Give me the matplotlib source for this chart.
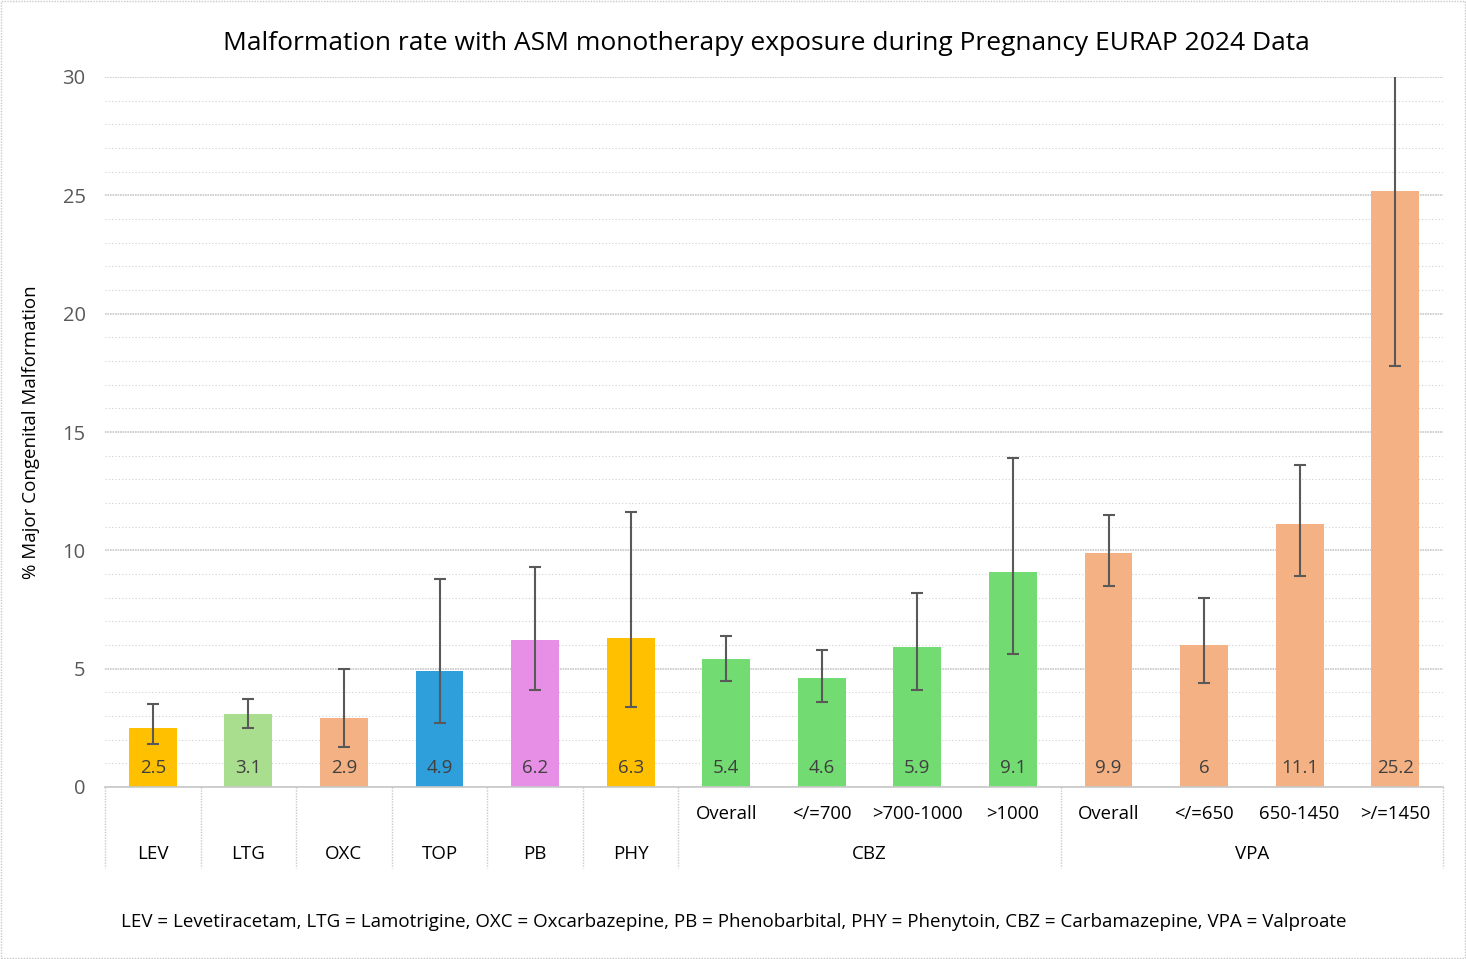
import matplotlib
matplotlib.use("Agg")
import matplotlib.pyplot as plt
import matplotlib.transforms as mtransforms
import numpy as np

plt.rcParams['font.family'] = ['Open Sans', 'DejaVu Sans']

# ---- data ----
groups = ["LEV", "LTG", "OXC", "TOP", "PB", "PHY", "CBZ", "VPA"]
group_sizes = [1, 1, 1, 1, 1, 1, 4, 4]
sub_labels = ["", "", "", "", "", "", "Overall", "</=700", ">700-1000", ">1000",
              "Overall", "</=650", "650-1450", ">/=1450"]
values = [2.5, 3.1, 2.9, 4.9, 6.2, 6.3, 5.4, 4.6, 5.9, 9.1, 9.9, 6, 11.1, 25.2]
value_labels = ["2.5", "3.1", "2.9", "4.9", "6.2", "6.3", "5.4", "4.6", "5.9", "9.1",
                "9.9", "6", "11.1", "25.2"]
ci_low = [1.8, 2.5, 1.7, 2.7, 4.1, 3.4, 4.5, 3.6, 4.1, 5.6, 8.5, 4.4, 8.9, 17.8]
ci_high = [3.5, 3.7, 5.0, 8.8, 9.3, 11.6, 6.4, 5.8, 8.2, 13.9, 11.5, 8.0, 13.6, 33.5]
colors = ["#FFC000", "#A9DE8E", "#F4B183", "#2E9FDB", "#E78FE6", "#FFC000",
          "#72DB72", "#72DB72", "#72DB72", "#72DB72",
          "#F4B183", "#F4B183", "#F4B183", "#F4B183"]
footer = ("LEV = Levetiracetam, LTG = Lamotrigine, OXC = Oxcarbazepine, PB = Phenobarbital, "
          "PHY = Phenytoin, CBZ = Carbamazepine, VPA = Valproate")
title = "Malformation rate with ASM monotherapy exposure during Pregnancy EURAP 2024 Data"

W, H = 1466, 959
fig = plt.figure(figsize=(W / 100, H / 100), dpi=100)
fig.patch.set_facecolor("white")

left, right, top, bottom = 105, 1443, 77, 787
ax = fig.add_axes([left / W, 1 - bottom / H, (right - left) / W, (bottom - top) / H])

x = np.arange(len(values))
vals = np.array(values)
yerr = np.vstack([vals - np.array(ci_low), np.array(ci_high) - vals])

ax.bar(x, vals, width=0.5, color=colors, zorder=2)
ax.errorbar(x, vals, yerr=yerr, fmt="none", ecolor="#595959", elinewidth=1.5,
            capsize=4, capthick=1.5, zorder=3)

for xi, lab in zip(x, value_labels):
    ax.text(xi, 0.8, lab, ha="center", va="center", fontsize=13.5, color="#404040", zorder=4)

ax.set_xlim(-0.5, len(values) - 0.5)
ax.set_ylim(0, 30)
ax.set_yticks(np.arange(0, 31, 5))
ax.set_yticks(np.arange(0, 31, 1), minor=True)
ax.tick_params(axis="y", which="both", length=0, labelsize=14.5, labelcolor="#595959", pad=14)
ax.set_xticks([])
ax.grid(axis="y", which="major", color="#C8C8C8", linewidth=1.2, linestyle=(0, (1, 0.5)), zorder=0)
ax.grid(axis="y", which="minor", color="#D0D0D0", linewidth=0.8, linestyle=(0, (1, 2)), zorder=0)
for s in ["top", "right", "left"]:
    ax.spines[s].set_visible(False)
ax.spines["bottom"].set_color("#C8C8C8")
ax.spines["bottom"].set_linewidth(1.2)

ax.set_ylabel("% Major Congenital Malformation", fontsize=13.5, color="#000000")
ax.yaxis.set_label_coords(-(105 - 40) / (right - left), 0.5)

# category axis boxes
trans = mtransforms.blended_transform_factory(ax.transData, ax.transAxes)
box_bottom = -(868 - 787) / (bottom - top)
sub_y = -(814 - 787) / (bottom - top)
grp_y = -(854 - 787) / (bottom - top)
bounds = [-0.5]
pos = -0.5
for n in group_sizes:
    pos += n
    bounds.append(pos)
for b in bounds:
    ax.plot([b, b], [0, box_bottom], transform=trans, clip_on=False,
            color="#C8C8C8", linewidth=1.0, linestyle=(0, (1, 1)))
start = 0
for g, n in zip(groups, group_sizes):
    center = start + (n - 1) / 2
    ax.text(center, grp_y, g, transform=trans, ha="center", va="center", fontsize=13.5, color="#000000")
    start += n
for xi, s in zip(x, sub_labels):
    if s:
        ax.text(xi, sub_y, s, transform=trans, ha="center", va="center", fontsize=13.3, color="#000000")

fig.text(766 / W, 1 - 44 / H, title, ha="center", va="center", fontsize=19, color="#000000")
fig.text(734 / W, 1 - 922 / H, footer, ha="center", va="center", fontsize=13.5, color="#000000")

# outer border
fig.add_artist(plt.Rectangle((0.001, 0.001), 0.998, 0.998, transform=fig.transFigure,
                             fill=False, edgecolor="#C8C8C8", linewidth=1.0, linestyle=(0, (1, 1))))

fig.savefig("out.png", dpi=100, facecolor="white")
